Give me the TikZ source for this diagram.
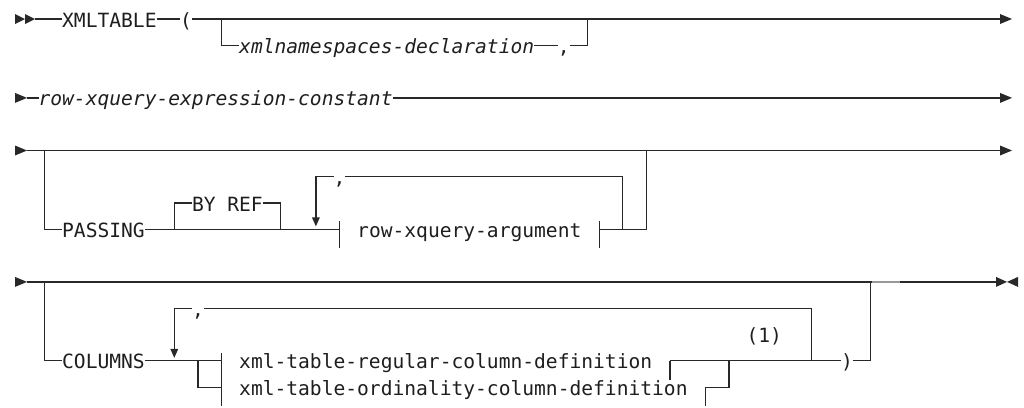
\documentclass[tikz,border=0pt]{standalone}
\usepackage{fontspec}
\newfontfamily\diagfont{DejaVu Sans Mono}
\definecolor{lc}{RGB}{40,40,40}
\definecolor{tc}{RGB}{30,30,30}
\begin{document}
\begin{tikzpicture}[x=1pt,y=-1pt,
  ln/.style={line width=1.2pt, draw=lc},
  txt/.style={anchor=base west, inner sep=0pt, outer sep=0pt, text=tc,
              font=\diagfont\fontsize{19.6}{22}\selectfont},
  itxt/.style={txt, font=\diagfont\itshape\fontsize{19.6}{22}\selectfont},
  tip/.style={fill=lc, draw=none}]
\useasboundingbox (0,0) rectangle (1024,407);
% row coordinates
\coordinate (r0) at (0,19);
\coordinate (r1) at (0,45.3);
\coordinate (r3) at (0,97.9);
\coordinate (r5) at (0,150.5);
\coordinate (r6) at (0,176.7);
\coordinate (r7) at (0,203);
\coordinate (r8) at (0,229.3);
\coordinate (r10) at (0,281.9);
\coordinate (r11) at (0,308.2);
\coordinate (r12) at (0,334.5);
\coordinate (r13) at (0,360.8);
\coordinate (r14) at (0,387.1);

% ================= Row 1 =================
\fill[tip] (15,14) -- (25,19) -- (15,24) -- cycle;
\fill[tip] (25,14) -- (35,19) -- (25,24) -- cycle;
\coordinate (s1) at (35,19);
\node[txt] (xmltable) at (62.2,27) {XMLTABLE};
\node[txt] (lpar) at (180.2,27) {(};
\coordinate (e1) at (1000,19);
\fill[tip] (1000,14) -- (1012,19) -- (1000,24) -- cycle;
\draw[ln] (s1) -- (xmltable.west |- s1);
\draw[ln] (xmltable.east |- s1) -- (lpar.west |- s1);
\draw[ln] (lpar.east |- s1) -- (e1);
\coordinate (b1) at (221.5,19);
\coordinate (b1e) at (587.3,19);
\node[itxt] (xmlns) at (239.2,53.3) {xmlnamespaces-declaration};
\node[txt] (c1) at (557.8,53.3) {,};
\draw[ln] (b1) -- (b1 |- r1) -- (xmlns.west |- r1);
\draw[ln] (xmlns.east |- r1) -- (c1.west |- r1);
\draw[ln] (c1.east |- r1) -- (b1e |- r1) -- (b1e);

% ================= Row 2 =================
\fill[tip] (15,92.9) -- (27,97.9) -- (15,102.9) -- cycle;
\coordinate (s2) at (27,97.9);
\coordinate (e2) at (1000,97.9);
\node[itxt] (rowexpr) at (38.6,105.9) {row-xquery-expression-constant};
\fill[tip] (1000,92.9) -- (1012,97.9) -- (1000,102.9) -- cycle;
\draw[ln] (s2) -- (rowexpr.west |- s2);
\draw[ln] (rowexpr.east |- s2) -- (e2);

% ================= Row 3 =================
\fill[tip] (15,145.5) -- (27,150.5) -- (15,155.5) -- cycle;
\coordinate (s3) at (27,150.5);
\coordinate (e3) at (1000,150.5);
\fill[tip] (1000,145.5) -- (1012,150.5) -- (1000,155.5) -- cycle;
\draw[ln] (s3) -- (e3);
\coordinate (b3) at (44.5,150.5);
\node[txt] (passing) at (62.2,237.3) {PASSING};
\draw[ln] (b3) -- (b3 |- r8) -- (passing.west |- r8);
% BY REF optional
\coordinate (br1) at (174.3,229.3);
\coordinate (br2) at (280.5,229.3);
\node[txt] (byref) at (192,211) {BY REF};
\draw[ln] (br1) -- (br1 |- r7) -- (byref.west |- r7);
\draw[ln] (byref.east |- r7) -- (br2 |- r7) -- (br2);
% fragment bars
\coordinate (fa1) at (339.5,229.3);
\coordinate (fa2) at (599.1,229.3);
\draw[ln] (passing.east |- r8) -- (fa1);
\draw[ln] (339.5,221.3) -- (339.5,248.3);
\node[txt] (rowarg) at (357.2,237.3) {row-xquery-argument};
\draw[ln] (599.1,221.3) -- (599.1,248.3);
% repeat loop
\coordinate (la1) at (315.9,176.7);
\coordinate (la2) at (622.7,176.7);
\node[txt] (c3) at (333.6,184.7) {,};
\draw[ln] (la1 |- r8) ++(0,-11) -- (la1) -- (c3.west |- la1);
\fill[tip] (311.9,217.3) -- (319.9,217.3) -- (315.9,226.3) -- cycle;
\draw[ln] (c3.east |- la1) -- (la2) -- (la2 |- r8);
\coordinate (j3) at (646.3,229.3);
\draw[ln] (fa2) -- (j3) -- (j3 |- r5);

% ================= Row 4 =================
\fill[tip] (15,276.9) -- (27,281.9) -- (15,286.9) -- cycle;
\coordinate (s4) at (27,281.9);
\coordinate (e4) at (996,281.9);
\draw[ln] (s4) -- (e4);
\fill[tip] (996,276.9) -- (1007,281.9) -- (996,286.9) -- cycle;
\fill[tip] (1018,276.9) -- (1007,281.9) -- (1018,286.9) -- cycle;
\draw[line width=2pt, draw=black!40] (872,281.9) -- (900,281.9);
\coordinate (b4) at (44.5,281.9);
\node[txt] (columns) at (62.2,368.8) {COLUMNS};
\draw[ln] (b4) -- (b4 |- r13) -- (columns.west |- r13);
% split into two alternatives
\coordinate (sp) at (197.9,360.8);
\coordinate (fb) at (221.5,360.8);
\draw[ln] (columns.east |- r13) -- (fb);
\draw[ln] (sp) -- (sp |- r14) -- (fb |- r14);
\draw[ln] (221.5,352.8) -- (221.5,406.1);
\node[txt] (regcol) at (239.2,368.8) {xml-table-regular-column-definition};
\node[txt] (ordcol) at (239.2,395.1) {xml-table-ordinality-column-definition};
\coordinate (eb1) at (669.9,360.8);
\coordinate (eb2) at (705.3,387.1);
\draw[ln] (669.9,360.8) -- (669.9,379.8);
\draw[ln] (705.3,387.1) -- (705.3,406.1);
\coordinate (jn) at (728.9,387.1);
\draw[ln] (eb2) -- (jn) -- (jn |- r13);
% repeat loop
\coordinate (lb1) at (174.3,308.2);
\coordinate (lb2) at (811.5,308.2);
\node[txt] (c4) at (192,316.2) {,};
\draw[ln] (174.3,349.8) -- (lb1) -- (c4.west |- lb1);
\fill[tip] (170.3,348.8) -- (178.3,348.8) -- (174.3,357.8) -- cycle;
\draw[ln] (c4.east |- lb1) -- (lb2) -- (lb2 |- r13);
\node[txt] (note) at (746.6,342.5) {(1)};
\node[txt] (rpar) at (841,368.8) {)};
\draw[ln] (eb1) -- (rpar.west |- r13);
\coordinate (j4) at (870.5,360.8);
\draw[ln] (rpar.east |- r13) -- (j4) -- (j4 |- r10);
\end{tikzpicture}
\end{document}
